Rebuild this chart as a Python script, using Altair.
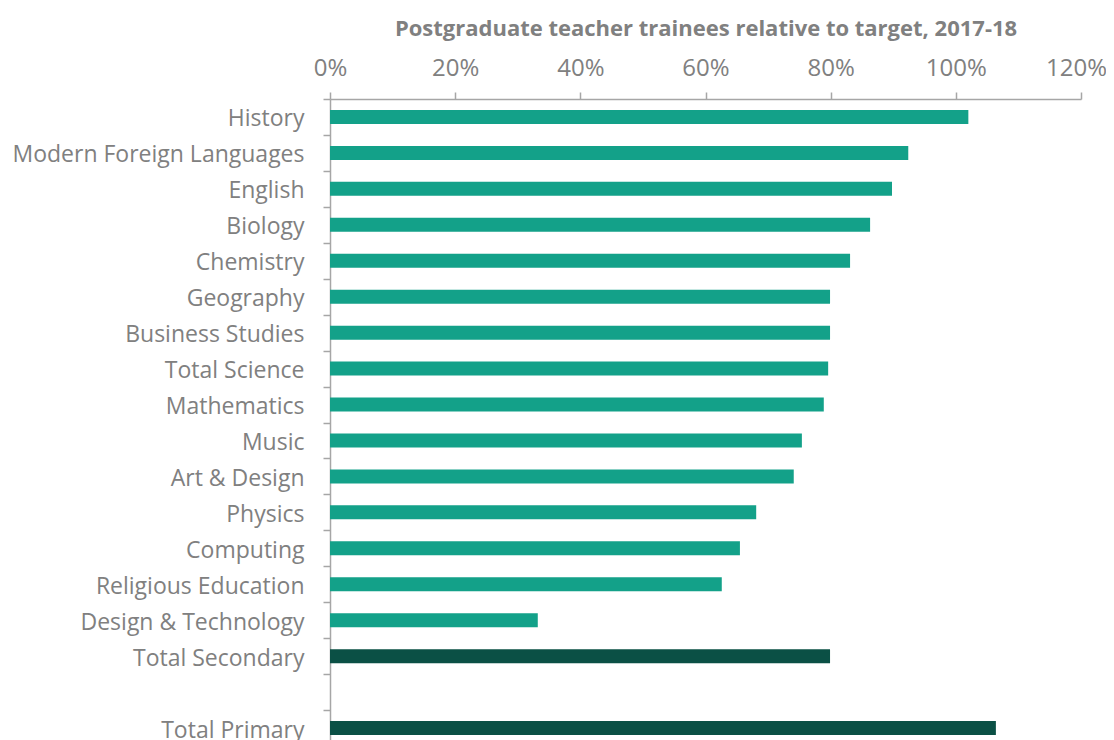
import altair as alt
import pandas as pd

subjects = ["History", "Modern Foreign Languages", "English", "Biology", "Chemistry",
            "Geography", "Business Studies", "Total Science", "Mathematics", "Music",
            "Art & Design", "Physics", "Computing", "Religious Education",
            "Design & Technology", "Total Secondary", " ", "Total Primary"]
values = [1.02, 0.924, 0.898, 0.863, 0.831, 0.799, 0.799, 0.796, 0.789, 0.754,
          0.741, 0.681, 0.655, 0.626, 0.332, 0.799, None, 1.064]
groups = ["Subject"] * 15 + ["Total", "Blank", "Total"]

df = pd.DataFrame({"subject": subjects, "value": values, "group": groups})
df = df[df["value"].notna()]

GRAY = "#808080"
FONT = "Open Sans"

chart = alt.Chart(df).mark_bar(size=14).encode(
    x=alt.X("value:Q",
            scale=alt.Scale(domain=[0, 1.2], nice=False, zero=True),
            axis=alt.Axis(orient="top", format=".0%", values=[0, 0.2, 0.4, 0.6, 0.8, 1.0, 1.2],
                          title="Postgraduate  teacher trainees relative  to target, 2017-18",
                          titleFont=FONT, titleFontSize=22, titleFontWeight="bold",
                          titleColor=GRAY, titlePadding=16,
                          labelFont=FONT, labelFontSize=24, labelColor=GRAY,
                          labelPadding=12, labelFontWeight="normal", labelFlush=False,
                          labelOffset={"expr": "datum.value >= 1.19 ? -5 : 0"},
                          grid=False, domainColor="#a6a6a6", tickColor="#a6a6a6",
                          tickSize=7, domainWidth=1.5, tickWidth=1.5)),
    y=alt.Y("subject:N", sort=subjects,
            scale=alt.Scale(domain=subjects, paddingInner=0, paddingOuter=0),
            axis=alt.Axis(title=None, labelFont=FONT, labelFontSize=23, labelColor=GRAY,
                          labelFontWeight="normal", labelLimit=500, labelOffset=2,
                          labelPadding=19, tickSize=7, tickBand="extent",
                          domainColor="#a6a6a6", tickColor="#a6a6a6",
                          domainWidth=1.5, tickWidth=1.5)),
    color=alt.Color("group:N",
                    scale=alt.Scale(domain=["Subject", "Total"], range=["#13A189", "#0B5045"]),
                    legend=None),
).properties(
    width=751, height=647,
    autosize=alt.AutoSizeParams(type="none"),
    padding={"left": 322, "top": 91, "right": 25, "bottom": 5},
).configure_view(stroke=None)

chart.save("out.html", embed_options={"renderer": "svg", "actions": False})
